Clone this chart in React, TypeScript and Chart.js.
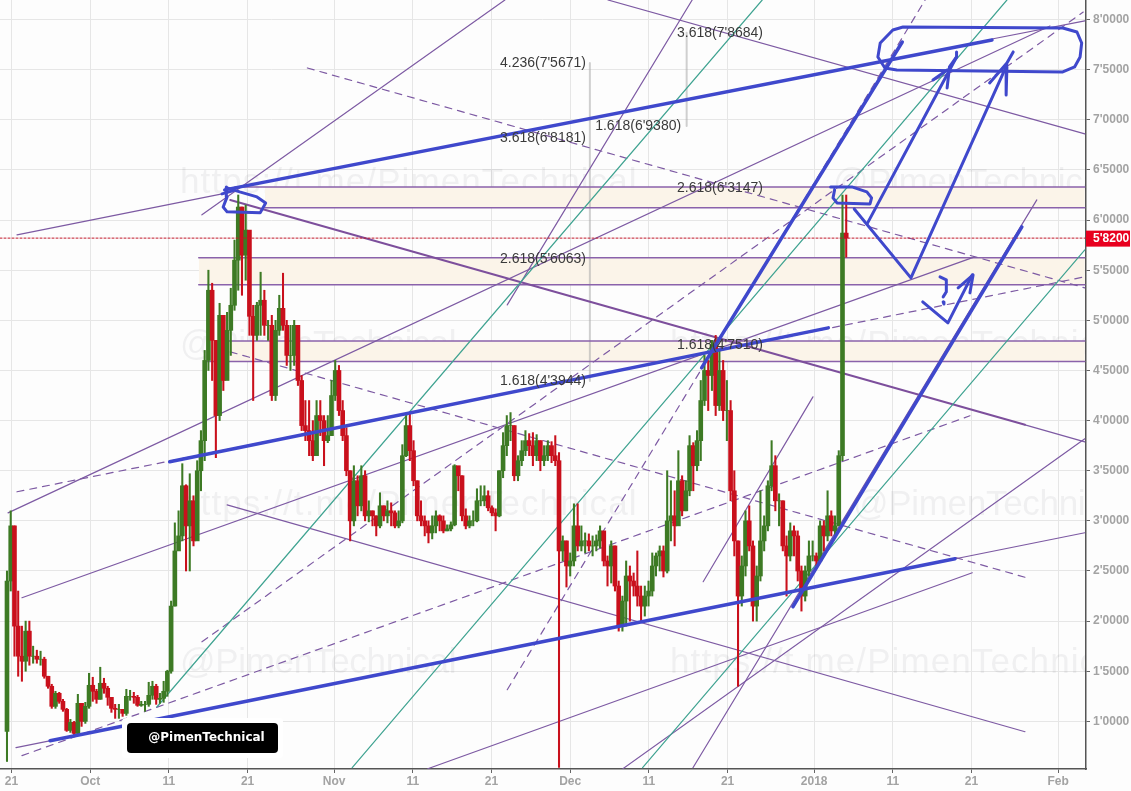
import React, { useEffect, useRef } from "react";
import { Chart, registerables } from "chart.js";

Chart.register(...registerables);

// days since 21 Sep 2017
const xTickDays = [0, 10, 20, 30, 41, 51, 61, 71, 81, 91, 102, 112, 122, 133];
const xTickLabels = ["21", "Oct", "11", "21", "Nov", "11", "21", "Dec", "11", "21", "2018", "11", "21", "Feb"];
const yTickValues = [1000, 1500, 2000, 2500, 3000, 3500, 4000, 4500, 5000, 5500, 6000, 6500, 7000, 7500, 8000];
const yTickLabels = ["1'0000", "1'5000", "2'0000", "2'5000", "3'0000", "3'5000", "4'0000", "4'5000", "5'0000", "5'5000", "6'0000", "6'5000", "7'0000", "7'5000", "8'0000"];

const firstOpen = 900;
const firstCandleDay = -0.572;
const candleStep = 0.474;
const closes = [
  2400,2950,1950,1650,1600,1900,1650,1650,1620,1620,
  1450,1350,1150,1280,1200,1120,910,990,880,1180,
  1000,1150,1360,1300,1220,1380,1330,1240,1130,1120,
  1120,1080,1250,1250,1240,1160,1170,1170,1260,1350,
  1220,1230,1300,1500,2150,2700,2850,3350,2950,3200,
  2800,3500,3800,4600,5300,4800,4050,5050,4400,4900,
  5150,5600,6130,5650,5900,5040,4850,5150,5200,4950,
  4950,4250,4900,5120,4950,4650,4650,4950,4400,3950,
  3900,3800,3650,4050,4000,3800,3850,4250,4500,4100,
  3850,3500,3000,3400,3150,3450,3050,3100,3050,2950,
  3150,3050,3100,3080,2950,3000,3650,3950,3700,3400,
  3050,3000,2950,2880,2950,3050,3000,2900,2920,2960,
  3550,3450,3050,2950,3000,3000,3200,3200,3250,3130,
  3080,3050,3500,3750,3950,3950,3450,3600,3700,3800,
  3750,3650,3800,3600,3650,3750,3650,3600,2700,2800,
  2550,2600,2950,2750,2800,2800,2750,2750,2800,2900,
  2600,2550,2750,2350,1950,2200,2450,2400,2350,2250,
  2150,2250,2300,2550,2650,2700,2500,3000,3050,2950,
  3400,3100,3300,3750,3550,3800,4200,4500,4450,4750,
  4150,4500,4100,4100,3300,2800,2250,2550,3000,2750,
  2150,2450,2800,2950,3350,3550,3200,3200,2750,2650,
  2900,2850,2500,2250,2500,2650,2650,2600,2950,2850,
  3050,2900,2950,3650,5870,5820,
];
const highs = [
  2500,3100,2950,2300,1950,2000,2000,1750,1710,1700,
  1640,1450,1370,1300,1290,1220,1130,1020,1000,1270,
  1180,1190,1480,1440,1320,1540,1430,1350,1240,1170,
  1170,1120,1320,1310,1290,1260,1200,1200,1390,1400,
  1370,1280,1400,1510,2200,2980,3100,3570,3360,3470,
  3250,3600,3900,4700,5500,5370,4800,5170,5050,5080,
  5320,5800,6250,6130,6150,5500,5150,5180,5480,5300,
  5000,5050,5000,5250,5470,5000,4950,5000,4900,4450,
  4200,4200,4000,4200,4200,4050,4050,4400,4600,4550,
  4200,3930,3500,3550,3450,3550,3500,3200,3100,3050,
  3280,3150,3200,3180,3100,3100,3760,4050,4080,3800,
  3400,3200,3050,3000,3050,3100,3060,3050,2960,2990,
  3560,3530,3450,3120,3050,3100,3320,3350,3350,3300,
  3150,3120,3500,3880,4050,4080,3950,3650,3800,3900,
  3870,3880,3860,3800,3750,3800,3790,3850,3680,2850,
  2800,2680,3170,3170,2950,2880,2870,2850,2860,2950,
  2850,2650,2800,2750,2400,2250,2600,2550,2480,2700,
  2350,2350,2400,2680,2680,2750,2750,3500,3400,3300,
  3700,3450,3400,3850,3780,3900,4400,4650,4600,4800,
  4850,4700,4600,4400,4200,3500,2800,2650,3100,3150,
  2800,2550,3300,3050,3400,3800,3650,3270,3200,2850,
  2980,2950,2900,2550,2550,2800,2800,2680,3000,3000,
  3300,3100,3050,3700,6250,6250,
];
const lows = [
  600,2300,1650,1450,1400,1500,1560,1580,1580,1560,
  1430,1330,1130,1130,1180,1100,900,890,860,870,
  950,980,1130,1200,1180,1220,1280,1160,1090,1030,
  1030,1050,1060,1210,1180,1150,1150,1100,1150,1220,
  1170,1180,1190,1250,1480,2150,2800,2800,2500,2500,
  2750,2820,3300,3600,4500,4400,3630,4000,4300,4450,
  4650,5100,5300,5250,5400,4850,4200,4800,4850,4850,
  4800,4200,4200,4850,4900,4550,4500,4550,4350,3900,
  3800,3650,3600,3650,3850,3550,3780,3850,4200,4050,
  3800,3450,2800,2950,3050,3100,3000,2990,2950,2850,
  2930,3000,2980,2950,2930,2930,2980,3640,3600,3350,
  3000,2950,2850,2780,2820,2880,2900,2880,2900,2900,
  2950,3300,3000,2920,2930,2950,2990,3150,3150,3100,
  3050,2900,3040,3430,3650,3800,3400,3400,3550,3650,
  3650,3550,3600,3500,3550,3600,3580,3550,540,2600,
  2340,2450,2550,2700,2700,2680,2700,2650,2700,2730,
  2550,2350,2380,2300,1900,1900,1950,2000,2250,2150,
  2000,2050,2150,2250,2450,2500,2440,2480,2800,2750,
  3000,3050,3100,3250,3300,3500,3600,4150,4100,4300,
  4050,4100,4000,3800,3200,2650,1350,2150,2450,2700,
  2000,2000,2400,2700,2900,3300,3100,2950,2700,2250,
  2600,2650,2400,2100,2200,2450,2600,2550,2600,2700,
  2800,2850,2850,3000,3600,5630,
];

const lastPrice = 5820;
const lastPriceLabel = "5'8200";

// [fromDay, toDay, top, bottom, bottomFromDay]
const bands = [
  [28.4, 136.4, 6331, 6122, 32.2],
  [23.8, 136.4, 5624, 5355, 23.8],
  [25.9, 136.4, 4793, 4589, 24.8],
];

// each line: [day, price, day, price, ...]
const purpleLines = [
  [0.7, 5852, 27.4, 6271],
  [24.2, 6052, 62.7, 8195],
  [-0.44, 3080, 131.97, 7936],
  [1.33, 2233, 122.4, 5633],
  [52.9, 528, 122.1, 2482],
  [77.7, 528, 136.4, 3818],
  [86.6, 538, 130.3, 6201],
  [87.9, 2393, 101.85, 4237],
  [63.0, 5154, 86.5, 8195],
  [128.8, 3958, 136.4, 3788],
  [75.8, 8195, 136.4, 6859],
  [27.4, 3160, 128.8, 897],
  [0.57, 738, 136.4, 2881],
  [124.6, 7806, 136.4, 7986],
];
const heavyPurpleLines = [[27.8, 6201, 128.8, 3958]];
const dashedLines = [
  [0.7, 3290, 136.4, 5434],
  [1.33, 658, 121.8, 4048],
  [37.6, 7517, 136.4, 5324],
  [27.8, 4686, 129, 2433],
  [24.2, 1794, 136.2, 8075],
  [63, 1316, 116.1, 8195],
];
const tealLines = [
  [18.5, 1146, 95.4, 8195],
  [43.3, 538, 126.5, 8195],
  [80.2, 538, 136.4, 5703],
];
const blueLines = [
  [27.1, 6301, 124.6, 7796],
  [4.9, 807, 119.9, 2622],
  [20.1, 3589, 103.8, 4925],
  [99.3, 2143, 128.4, 5932],
  [87.7, 4526, 113.2, 7776],
];
const blueSketches = [
  [107.1, 6111, 114.3, 5423, 126.5, 7547],
  [108.8, 5972, 120.1, 7627],
  [118.9, 7318, 119.2, 7527, 120.1, 7627, 120.1, 7677],
  [117.1, 7398, 118.9, 7497],
  [124.3, 7368, 126.5, 7567, 127.3, 7677],
  [126.5, 7527, 126.4, 7248],
  [111, 7517, 112.5, 7497, 133.6, 7477, 135.1, 7527, 135.8, 7627, 136, 7766, 135.4, 7876, 133.6, 7916, 113.3, 7926, 112, 7896, 110.4, 7766, 110.1, 7627, 111, 7517],
  [104.1, 6331, 106.8, 6331, 108.7, 6281, 109.3, 6221, 109.1, 6161, 104.9, 6171, 104.4, 6221, 104.6, 6301],
  [27.4, 6231, 26.9, 6131, 27.4, 6082, 31.6, 6072, 32.3, 6171, 31.2, 6231, 29, 6281, 27.4, 6321],
  [27.3, 6331, 27.3, 6231],
  [26.75, 6261, 28.1, 6291],
  [115.8, 5184, 119, 4975, 122.1, 5453],
  [120.3, 5324, 122.2, 5453, 121.8, 5274],
  [118, 5434, 118.8, 5404, 118.8, 5284, 118.4, 5234],
  [118.4, 5184, 118.5, 5164],
];
const fibBars = [
  [73.5, 7567, 73.5, 4394],
  [85.8, 7868, 85.8, 6938],
];
const fibTexts = ["4.236(7'5671)", "3.618(6'8181)", "2.618(5'6063)", "1.618(4'3944)", "3.618(7'8684)", "1.618(6'9380)", "2.618(6'3147)", "1.618(4'7510)"];
const fibDays = [73.0, 73.0, 73.0, 73.0, 95.5, 85.1, 95.5, 95.5];
const fibValues = [7567, 6818, 5606, 4394, 7868, 6938, 6315, 4751];

const watermarks: [string, number, number, string][] = [
  ["https://t.me/PimenTechnical", 180, 183, "1.1px"],
  ["@PimenTechnical", 833, 183, "-0.3px"],
  ["@PimenTechnical", 180, 345, "-0.3px"],
  ["https://t.me/PimenTechnical", 670, 345, "1.1px"],
  ["https://t.me/PimenTechnical", 180, 505, "1.1px"],
  ["@PimenTechnical", 853, 505, "-0.3px"],
  ["@PimenTechnical", 180, 663, "-0.3px"],
  ["https://t.me/PimenTechnical", 670, 663, "1.1px"],
];
const badgeText = "@PimenTechnical";

const BG = "#fdfdfd";
const PURPLE = "#7d5aa3";
const TEAL = "#3fa391";
const BLUE = "#3f48cc";
const UP = "#3d7a24";
const DOWN = "#c9101c";

const toPoints = (flat: number[]) => {
  const pts: { x: number; y: number }[] = [];
  for (let i = 0; i < flat.length; i += 2) pts.push({ x: flat[i], y: flat[i + 1] });
  return pts;
};
const lineSet = (flat: number[], color: string, width: number, order: number, dash: number[] = []) => ({
  type: "line" as const,
  data: toPoints(flat),
  borderColor: color,
  borderWidth: width,
  borderDash: dash,
  pointRadius: 0,
  tension: 0,
  fill: false,
  order,
  borderCapStyle: "round" as const,
  borderJoinStyle: "round" as const,
});

const overlayPlugin = {
  id: "overlay",
  beforeDatasetsDraw(chart: any) {
    const { ctx, chartArea } = chart;
    ctx.save();
    ctx.beginPath();
    ctx.rect(chartArea.left, chartArea.top, chartArea.right - chartArea.left, chartArea.bottom - chartArea.top);
    ctx.clip();
    ctx.fillStyle = "rgba(60,60,70,0.065)";
    ctx.font = '35px "Liberation Sans"';
    ctx.textBaseline = "middle";
    ctx.textAlign = "left";
    for (const [t, x, y, sp] of watermarks) {
      ctx.letterSpacing = sp;
      ctx.fillText(t, x, y);
    }
    ctx.restore();
  },
  afterDatasetsDraw(chart: any) {
    const { ctx, scales } = chart;
    ctx.save();
    ctx.font = '14px "Liberation Sans"';
    ctx.fillStyle = "#3a3a3a";
    ctx.textAlign = "right";
    ctx.textBaseline = "middle";
    fibTexts.forEach((t, i) => {
      ctx.fillText(t, scales.x.getPixelForValue(fibDays[i]), scales.y.getPixelForValue(fibValues[i]));
    });
    ctx.restore();
  },
  afterDraw(chart: any) {
    const { ctx, scales, chartArea } = chart;
    ctx.save();
    // last-price tag
    const py = scales.y.getPixelForValue(lastPrice);
    ctx.fillStyle = "#e8001f";
    ctx.fillRect(chartArea.right, py - 7.5, 44, 16);
    ctx.fillStyle = "#ffffff";
    ctx.font = 'bold 12px "Liberation Sans"';
    ctx.textAlign = "left";
    ctx.textBaseline = "middle";
    ctx.fillText(lastPriceLabel, chartArea.right + 7, py + 1);
    // badge
    const bx = 127, by = 723, bw = 151, bh = 30;
    ctx.fillStyle = "#ffffff";
    ctx.beginPath();
    ctx.roundRect(bx - 5, by - 5, bw + 10, bh + 10, 4);
    ctx.fill();
    ctx.fillStyle = "#000000";
    ctx.beginPath();
    ctx.roundRect(bx, by, bw, bh, 4);
    ctx.fill();
    ctx.fillStyle = "#ffffff";
    ctx.font = 'bold 12px "DejaVu Sans"';
    ctx.textAlign = "center";
    ctx.fillText(badgeText, bx + bw / 2 + 4, by + bh / 2);
    ctx.restore();
  },
};

export default function App() {
  const ref = useRef<HTMLCanvasElement>(null);
  useEffect(() => {
    document.body.style.margin = "0";
    const opens = closes.map((_, i) => (i === 0 ? firstOpen : closes[i - 1]));
    const days = closes.map((_, i) => firstCandleDay + candleStep * i);
    const colors = closes.map((c, i) => (c >= opens[i] ? UP : DOWN));

    const datasets: any[] = [];
    bands.forEach(([from, to, top, bottom, bottomFrom]) => {
      datasets.push({
        type: "line",
        data: [{ x: bottomFrom, y: top }, { x: to, y: top }],
        borderWidth: 0,
        pointRadius: 0,
        backgroundColor: "#fbf4e9",
        fill: { target: { value: bottom } },
        order: 60,
      });
      datasets.push(lineSet([from, top, to, top], "#8a62ab", 1.5, 45));
      datasets.push(lineSet([bottomFrom, bottom, to, bottom], "#8a62ab", 1.5, 45));
    });
    fibBars.forEach((b) => datasets.push(lineSet(b, "rgba(170,170,170,0.55)", 2, 50)));
    tealLines.forEach((l) => datasets.push(lineSet(l, TEAL, 1.2, 40)));
    purpleLines.forEach((l) => datasets.push(lineSet(l, PURPLE, 1.2, 40)));
    heavyPurpleLines.forEach((l) => datasets.push(lineSet(l, "#7d4f9c", 2, 40)));
    dashedLines.forEach((l) => datasets.push(lineSet(l, PURPLE, 1.2, 40, [7, 6])));
    datasets.push({
      type: "bar",
      data: days.map((d, i) => ({ x: d, y: [lows[i], highs[i]] })),
      backgroundColor: colors,
      barThickness: 1.4,
      grouped: false,
      order: 30,
    });
    datasets.push({
      type: "bar",
      data: days.map((d, i) => ({ x: d, y: [opens[i], closes[i]] })),
      backgroundColor: colors,
      barThickness: 4,
      grouped: false,
      order: 20,
    });
    datasets.push(lineSet([-1.46, lastPrice, 136.55, lastPrice], "#c2182a", 1, 15, [2, 2]));
    blueLines.forEach((l) => datasets.push(lineSet(l, BLUE, 3.5, 10)));
    blueSketches.forEach((l) => datasets.push(lineSet(l, BLUE, 3, 10)));

    const chart = new Chart(ref.current as HTMLCanvasElement, {
      type: "line",
      data: { datasets },
      plugins: [overlayPlugin],
      options: {
        animation: false,
        responsive: false,
        devicePixelRatio: 1,
        events: [],
        layout: { padding: 0 },
        plugins: { legend: { display: false }, tooltip: { enabled: false } },
        scales: {
          x: {
            type: "linear",
            min: -1.461,
            max: 136.55,
            offset: false,
            afterBuildTicks(s: any) {
              s.ticks = xTickDays.map((value) => ({ value }));
            },
            afterFit(s: any) {
              s.height = 22;
              s.paddingLeft = 0;
              s.paddingRight = 0;
            },
            ticks: {
              autoSkip: false,
              maxRotation: 0,
              padding: 1,
              color: "#a3a3a3",
              font: { family: "Liberation Sans", size: 12, weight: "bold" },
              callback: (_v: any, i: number) => xTickLabels[i],
            },
            grid: { offset: false, color: "#e6e6e6", tickColor: "#666", tickLength: 4, lineWidth: 1 },
            border: { color: "#555", width: 1.5 },
          },
          y: {
            type: "linear",
            position: "right",
            min: 525,
            max: 8195,
            afterBuildTicks(s: any) {
              s.ticks = yTickValues.map((value) => ({ value }));
            },
            afterFit(s: any) {
              s.width = 45;
              s.paddingTop = 0;
              s.paddingBottom = 0;
            },
            ticks: {
              autoSkip: false,
              padding: 3,
              color: "#a3a3a3",
              font: { family: "Liberation Sans", size: 12, weight: "bold" },
              callback: (_v: any, i: number) => yTickLabels[i],
            },
            grid: { color: "#e6e6e6", tickColor: "#666", tickLength: 4, lineWidth: 1 },
            border: { color: "#555", width: 1.5 },
          },
        },
      } as any,
    });
    return () => chart.destroy();
  }, []);
  return (
    <canvas
      ref={ref}
      width={1131}
      height={791}
      style={{ display: "block", width: 1131, height: 791, background: BG }}
    />
  );
}
